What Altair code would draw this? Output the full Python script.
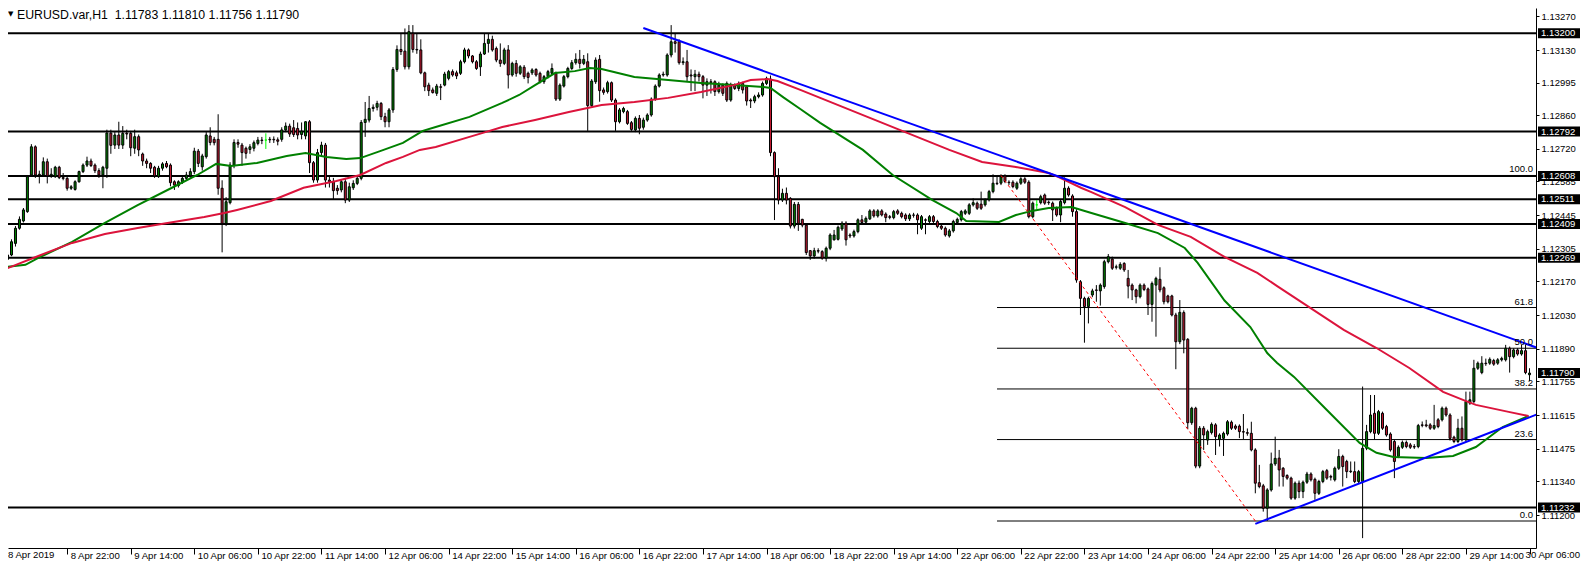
import json
import altair as alt
import pandas as pd

FONT = "Liberation Sans"

# ---------------- data (EURUSD H1, bars 1..384) ----------------
OPEN = [
    1.12262, 1.12280, 1.12328, 1.12391, 1.12421, 1.12460, 1.12612, 1.12729, 1.12612, 1.12612,
    1.12667, 1.12610, 1.12605, 1.12644, 1.12601, 1.12598, 1.12557, 1.12552, 1.12584, 1.12626,
    1.12653, 1.12670, 1.12653, 1.12630, 1.12612, 1.12640, 1.12786, 1.12736, 1.12778, 1.12736,
    1.12785, 1.12785, 1.12723, 1.12771, 1.12699, 1.12670, 1.12660, 1.12644, 1.12605, 1.12640,
    1.12660, 1.12653, 1.12584, 1.12568, 1.12584, 1.12598, 1.12609, 1.12626, 1.12711, 1.12646,
    1.12688, 1.12774, 1.12760, 1.12760, 1.12557, 1.12411, 1.12497, 1.12653, 1.12747, 1.12736,
    1.12723, 1.12718, 1.12723, 1.12743, 1.12757, 1.12757, 1.12760, 1.12760, 1.12758, 1.12760,
    1.12799, 1.12815, 1.12808, 1.12805, 1.12780, 1.12774, 1.12833, 1.12663, 1.12591, 1.12705,
    1.12736, 1.12591, 1.12584, 1.12557, 1.12550, 1.12584, 1.12508, 1.12559, 1.12577, 1.12598,
    1.12830, 1.12840, 1.12888, 1.12893, 1.12909, 1.12854, 1.12833, 1.12882, 1.13050, 1.13133,
    1.13126, 1.13061, 1.13200, 1.13133, 1.13131, 1.13036, 1.12985, 1.12965, 1.12951, 1.12978,
    1.12985, 1.13013, 1.13041, 1.13036, 1.13034, 1.13082, 1.13131, 1.13106, 1.13082, 1.13061,
    1.13114, 1.13158, 1.13175, 1.13137, 1.13089, 1.13075, 1.13131, 1.13027, 1.13075, 1.13034,
    1.13059, 1.13034, 1.13036, 1.13050, 1.13034, 1.12999, 1.13020, 1.13034, 1.13034, 1.12927,
    1.12981, 1.13020, 1.13054, 1.13078, 1.13092, 1.13075, 1.13082, 1.12900, 1.12999, 1.13092,
    1.12965, 1.12958, 1.12995, 1.12923, 1.12833, 1.12875, 1.12875, 1.12829, 1.12799, 1.12847,
    1.12810, 1.12840, 1.12861, 1.12927, 1.12981, 1.13027, 1.13027, 1.13110, 1.13165, 1.13165,
    1.13078, 1.13082, 1.13027, 1.13020, 1.13030, 1.13020, 1.12985, 1.12999, 1.12999, 1.12958,
    1.12985, 1.12992, 1.12923, 1.12985, 1.12971, 1.12992, 1.12978, 1.12923, 1.12919, 1.12937,
    1.12944, 1.12992, 1.13010, 1.12705, 1.12605, 1.12508, 1.12536, 1.12515, 1.12400, 1.12490,
    1.12428, 1.12404, 1.12298, 1.12276, 1.12298, 1.12294, 1.12267, 1.12308, 1.12343, 1.12345,
    1.12388, 1.12412, 1.12363, 1.12359, 1.12377, 1.12426, 1.12416, 1.12430, 1.12463, 1.12442,
    1.12463, 1.12450, 1.12439, 1.12435, 1.12463, 1.12453, 1.12446, 1.12430, 1.12446, 1.12446,
    1.12391, 1.12426, 1.12419, 1.12439, 1.12419, 1.12400, 1.12391, 1.12359, 1.12380, 1.12415,
    1.12426, 1.12453, 1.12453, 1.12488, 1.12495, 1.12491, 1.12488, 1.12509, 1.12543, 1.12578,
    1.12578, 1.12608, 1.12582, 1.12582, 1.12557, 1.12578, 1.12596, 1.12582, 1.12439, 1.12488,
    1.12497, 1.12529, 1.12497, 1.12495, 1.12474, 1.12446, 1.12497, 1.12557, 1.12525, 1.12460,
    1.12169, 1.12100, 1.12066, 1.12114, 1.12135, 1.12131, 1.12149, 1.12252, 1.12263, 1.12229,
    1.12225, 1.12245, 1.12183, 1.12155, 1.12135, 1.12107, 1.12155, 1.12139, 1.12075, 1.12155,
    1.12179, 1.12144, 1.12110, 1.12110, 1.12031, 1.11920, 1.12041, 1.11930, 1.11584, 1.11644,
    1.11404, 1.11561, 1.11512, 1.11543, 1.11575, 1.11515, 1.11519, 1.11537, 1.11586, 1.11570,
    1.11570, 1.11547, 1.11543, 1.11540, 1.11471, 1.11335, 1.11322, 1.11229, 1.11305, 1.11413,
    1.11437, 1.11395, 1.11365, 1.11354, 1.11271, 1.11333, 1.11298, 1.11337, 1.11371, 1.11349,
    1.11291, 1.11340, 1.11385, 1.11361, 1.11347, 1.11395, 1.11444, 1.11423, 1.11381, 1.11381,
    1.11340, 1.11340, 1.11478, 1.11547, 1.11623, 1.11540, 1.11623, 1.11568, 1.11537, 1.11506,
    1.11444, 1.11482, 1.11502, 1.11492, 1.11485, 1.11485, 1.11575, 1.11575, 1.11575, 1.11561,
    1.11596, 1.11596, 1.11644, 1.11616, 1.11524, 1.11506, 1.11561, 1.11513, 1.11665, 1.11672,
    1.11810, 1.11792, 1.11831, 1.11831, 1.11842, 1.11831, 1.11845, 1.11845, 1.11893, 1.11858,
    1.11886, 1.11869, 1.11883, 1.11783,
]
HIGH = [
    1.12294, 1.12345, 1.12400, 1.12440, 1.12475, 1.12612, 1.12740, 1.12735, 1.12630, 1.12685,
    1.12680, 1.12640, 1.12650, 1.12650, 1.12620, 1.12605, 1.12570, 1.12590, 1.12630, 1.12660,
    1.12688, 1.12680, 1.12660, 1.12640, 1.12650, 1.12800, 1.12800, 1.12790, 1.12833, 1.12815,
    1.12800, 1.12795, 1.12800, 1.12780, 1.12705, 1.12680, 1.12665, 1.12650, 1.12650, 1.12665,
    1.12670, 1.12660, 1.12590, 1.12590, 1.12610, 1.12625, 1.12640, 1.12725, 1.12720, 1.12700,
    1.12790, 1.12810, 1.12770, 1.12864, 1.12590, 1.12520, 1.12665, 1.12760, 1.12760, 1.12745,
    1.12730, 1.12740, 1.12755, 1.12770, 1.12770, 1.12785, 1.12770, 1.12772, 1.12768, 1.12810,
    1.12830, 1.12825, 1.12840, 1.12830, 1.12830, 1.12835, 1.12840, 1.12670, 1.12720, 1.12750,
    1.12745, 1.12610, 1.12600, 1.12570, 1.12595, 1.12600, 1.12580, 1.12590, 1.12610, 1.12840,
    1.12915, 1.12940, 1.12905, 1.12920, 1.12915, 1.12870, 1.12890, 1.13060, 1.13150, 1.13200,
    1.13220, 1.13234, 1.13234, 1.13200, 1.13175, 1.13041, 1.12995, 1.12975, 1.12990, 1.12990,
    1.13040, 1.13048, 1.13050, 1.13045, 1.13090, 1.13140, 1.13137, 1.13110, 1.13089, 1.13124,
    1.13200, 1.13200, 1.13190, 1.13145, 1.13158, 1.13140, 1.13151, 1.13082, 1.13089, 1.13068,
    1.13068, 1.13041, 1.13055, 1.13055, 1.13041, 1.13027, 1.13048, 1.13075, 1.13041, 1.12992,
    1.13027, 1.13061, 1.13089, 1.13117, 1.13131, 1.13110, 1.13117, 1.13010, 1.13100, 1.13110,
    1.12975, 1.13003, 1.13000, 1.12930, 1.12890, 1.12895, 1.12882, 1.12836, 1.12855, 1.12861,
    1.12850, 1.12868, 1.12934, 1.12988, 1.13034, 1.13041, 1.13117, 1.13234, 1.13200, 1.13175,
    1.13100, 1.13131, 1.13050, 1.13048, 1.13041, 1.13027, 1.13013, 1.13010, 1.13005, 1.12999,
    1.12992, 1.13000, 1.12995, 1.12992, 1.13000, 1.12999, 1.12985, 1.12930, 1.12945, 1.12955,
    1.13000, 1.13020, 1.13025, 1.12710, 1.12640, 1.12555, 1.12560, 1.12520, 1.12500, 1.12500,
    1.12430, 1.12410, 1.12300, 1.12310, 1.12308, 1.12300, 1.12315, 1.12370, 1.12384, 1.12402,
    1.12420, 1.12420, 1.12370, 1.12385, 1.12432, 1.12446, 1.12440, 1.12470, 1.12470, 1.12470,
    1.12470, 1.12457, 1.12446, 1.12467, 1.12470, 1.12460, 1.12453, 1.12453, 1.12455, 1.12453,
    1.12446, 1.12432, 1.12446, 1.12446, 1.12426, 1.12405, 1.12398, 1.12388, 1.12426, 1.12435,
    1.12467, 1.12470, 1.12495, 1.12515, 1.12502, 1.12543, 1.12515, 1.12550, 1.12615, 1.12605,
    1.12615, 1.12615, 1.12590, 1.12590, 1.12585, 1.12603, 1.12603, 1.12590, 1.12502, 1.12508,
    1.12530, 1.12535, 1.12506, 1.12502, 1.12481, 1.12509, 1.12602, 1.12565, 1.12532, 1.12470,
    1.12176, 1.12107, 1.12107, 1.12140, 1.12155, 1.12162, 1.12260, 1.12284, 1.12273, 1.12240,
    1.12250, 1.12250, 1.12218, 1.12162, 1.12140, 1.12162, 1.12162, 1.12145, 1.12170, 1.12190,
    1.12229, 1.12150, 1.12115, 1.12115, 1.12040, 1.12093, 1.12050, 1.11935, 1.11650, 1.11650,
    1.11570, 1.11570, 1.11555, 1.11585, 1.11582, 1.11540, 1.11547, 1.11595, 1.11593, 1.11577,
    1.11577, 1.11620, 1.11560, 1.11588, 1.11478, 1.11409, 1.11330, 1.11312, 1.11460, 1.11526,
    1.11471, 1.11400, 1.11370, 1.11360, 1.11340, 1.11344, 1.11344, 1.11380, 1.11378, 1.11356,
    1.11347, 1.11388, 1.11392, 1.11368, 1.11402, 1.11474, 1.11451, 1.11430, 1.11423, 1.11423,
    1.11388, 1.11734, 1.11575, 1.11699, 1.11699, 1.11637, 1.11630, 1.11575, 1.11544, 1.11513,
    1.11490, 1.11510, 1.11510, 1.11500, 1.11495, 1.11579, 1.11589, 1.11596, 1.11582, 1.11658,
    1.11603, 1.11651, 1.11651, 1.11623, 1.11530, 1.11600, 1.11610, 1.11713, 1.11713, 1.11845,
    1.11838, 1.11860, 1.11850, 1.11855, 1.11849, 1.11852, 1.11858, 1.11907, 1.11900, 1.11893,
    1.11893, 1.11907, 1.11907, 1.11810,
]
LOW = [
    1.12259, 1.12275, 1.12315, 1.12385, 1.12415, 1.12455, 1.12605, 1.12600, 1.12577, 1.12605,
    1.12577, 1.12600, 1.12600, 1.12595, 1.12590, 1.12547, 1.12550, 1.12547, 1.12580, 1.12620,
    1.12645, 1.12645, 1.12620, 1.12600, 1.12557, 1.12600, 1.12700, 1.12720, 1.12720, 1.12720,
    1.12760, 1.12690, 1.12700, 1.12690, 1.12650, 1.12640, 1.12620, 1.12600, 1.12600, 1.12630,
    1.12640, 1.12565, 1.12550, 1.12560, 1.12575, 1.12590, 1.12600, 1.12615, 1.12645, 1.12630,
    1.12680, 1.12735, 1.12735, 1.12530, 1.12291, 1.12400, 1.12490, 1.12640, 1.12725, 1.12650,
    1.12680, 1.12700, 1.12710, 1.12735, 1.12740, 1.12720, 1.12745, 1.12745, 1.12735, 1.12750,
    1.12790, 1.12770, 1.12770, 1.12760, 1.12760, 1.12760, 1.12620, 1.12580, 1.12580, 1.12690,
    1.12560, 1.12560, 1.12510, 1.12530, 1.12540, 1.12495, 1.12500, 1.12550, 1.12570, 1.12590,
    1.12770, 1.12830, 1.12875, 1.12880, 1.12840, 1.12810, 1.12810, 1.12870, 1.13040, 1.13110,
    1.13050, 1.13050, 1.13120, 1.13115, 1.13030, 1.12960, 1.12940, 1.12950, 1.12940, 1.12923,
    1.12980, 1.13005, 1.13020, 1.13010, 1.13027, 1.13075, 1.13096, 1.13075, 1.13048, 1.13023,
    1.13110, 1.13120, 1.13124, 1.13080, 1.13061, 1.13068, 1.12971, 1.13020, 1.13020, 1.13027,
    1.13010, 1.12992, 1.13027, 1.13020, 1.12992, 1.12990, 1.13013, 1.13027, 1.12919, 1.12919,
    1.12975, 1.13013, 1.13048, 1.13070, 1.13054, 1.13068, 1.12795, 1.12890, 1.12990, 1.12916,
    1.12945, 1.12950, 1.12915, 1.12795, 1.12826, 1.12868, 1.12820, 1.12795, 1.12790, 1.12781,
    1.12800, 1.12833, 1.12854, 1.12920, 1.12975, 1.13020, 1.13020, 1.13100, 1.13120, 1.13070,
    1.13068, 1.13000, 1.12960, 1.12960, 1.13000, 1.12930, 1.12940, 1.12950, 1.12940, 1.12950,
    1.12940, 1.12915, 1.12916, 1.12965, 1.12960, 1.12950, 1.12900, 1.12890, 1.12910, 1.12930,
    1.12937, 1.12985, 1.12690, 1.12425, 1.12490, 1.12500, 1.12490, 1.12390, 1.12390, 1.12380,
    1.12395, 1.12280, 1.12260, 1.12265, 1.12287, 1.12260, 1.12253, 1.12300, 1.12340, 1.12340,
    1.12380, 1.12319, 1.12350, 1.12352, 1.12370, 1.12410, 1.12410, 1.12425, 1.12435, 1.12435,
    1.12440, 1.12416, 1.12428, 1.12428, 1.12446, 1.12432, 1.12421, 1.12421, 1.12435, 1.12366,
    1.12384, 1.12366, 1.12412, 1.12412, 1.12391, 1.12384, 1.12356, 1.12352, 1.12373, 1.12408,
    1.12419, 1.12446, 1.12446, 1.12481, 1.12467, 1.12467, 1.12481, 1.12502, 1.12536, 1.12570,
    1.12570, 1.12578, 1.12570, 1.12557, 1.12550, 1.12571, 1.12575, 1.12432, 1.12432, 1.12470,
    1.12490, 1.12488, 1.12488, 1.12421, 1.12439, 1.12416, 1.12490, 1.12522, 1.12439, 1.12165,
    1.12031, 1.11916, 1.11996, 1.12105, 1.12086, 1.12070, 1.12140, 1.12245, 1.12218, 1.12220,
    1.12218, 1.12210, 1.12100, 1.12093, 1.12079, 1.12100, 1.12130, 1.12031, 1.12003, 1.11941,
    1.12125, 1.12075, 1.12079, 1.12025, 1.11806, 1.11910, 1.11872, 1.11557, 1.11575, 1.11395,
    1.11395, 1.11471, 1.11492, 1.11535, 1.11450, 1.11485, 1.11446, 1.11530, 1.11554, 1.11554,
    1.11520, 1.11515, 1.11530, 1.11465, 1.11291, 1.11312, 1.11215, 1.11176, 1.11298, 1.11405,
    1.11319, 1.11319, 1.11347, 1.11264, 1.11264, 1.11271, 1.11271, 1.11330, 1.11340, 1.11264,
    1.11284, 1.11333, 1.11347, 1.11344, 1.11340, 1.11388, 1.11319, 1.11354, 1.11375, 1.11333,
    1.11330, 1.11105, 1.11470, 1.11540, 1.11513, 1.11533, 1.11554, 1.11526, 1.11464, 1.11354,
    1.11437, 1.11475, 1.11478, 1.11475, 1.11475, 1.11478, 1.11565, 1.11565, 1.11554, 1.11554,
    1.11561, 1.11589, 1.11609, 1.11510, 1.11499, 1.11499, 1.11506, 1.11506, 1.11658, 1.11665,
    1.11803, 1.11785, 1.11820, 1.11824, 1.11820, 1.11824, 1.11838, 1.11838, 1.11792, 1.11851,
    1.11862, 1.11862, 1.11785, 1.11756,
]
CLOSE = [
    1.12280, 1.12335, 1.12391, 1.12428, 1.12467, 1.12605, 1.12729, 1.12612, 1.12615, 1.12667,
    1.12608, 1.12615, 1.12644, 1.12601, 1.12598, 1.12557, 1.12563, 1.12584, 1.12626, 1.12653,
    1.12670, 1.12651, 1.12630, 1.12612, 1.12644, 1.12786, 1.12735, 1.12778, 1.12736, 1.12785,
    1.12782, 1.12725, 1.12771, 1.12716, 1.12670, 1.12660, 1.12640, 1.12608, 1.12640, 1.12658,
    1.12646, 1.12580, 1.12570, 1.12584, 1.12598, 1.12612, 1.12626, 1.12711, 1.12660, 1.12691,
    1.12778, 1.12747, 1.12746, 1.12557, 1.12411, 1.12501, 1.12653, 1.12747, 1.12740, 1.12705,
    1.12702, 1.12729, 1.12746, 1.12757, 1.12755, 1.12757, 1.12758, 1.12758, 1.12752, 1.12799,
    1.12815, 1.12782, 1.12780, 1.12778, 1.12794, 1.12833, 1.12663, 1.12591, 1.12705, 1.12736,
    1.12591, 1.12584, 1.12547, 1.12547, 1.12584, 1.12508, 1.12563, 1.12577, 1.12598, 1.12830,
    1.12843, 1.12888, 1.12893, 1.12909, 1.12854, 1.12833, 1.12882, 1.13050, 1.13133, 1.13124,
    1.13061, 1.13207, 1.13133, 1.13131, 1.13036, 1.12978, 1.12962, 1.12954, 1.12981, 1.12976,
    1.13031, 1.13041, 1.13027, 1.13023, 1.13082, 1.13131, 1.13106, 1.13082, 1.13054, 1.13114,
    1.13158, 1.13175, 1.13131, 1.13089, 1.13075, 1.13131, 1.13027, 1.13075, 1.13034, 1.13061,
    1.13020, 1.13017, 1.13048, 1.13027, 1.12999, 1.13020, 1.13041, 1.13054, 1.12927, 1.12985,
    1.13020, 1.13054, 1.13078, 1.13092, 1.13075, 1.13092, 1.12900, 1.13002, 1.13089, 1.12962,
    1.12955, 1.12995, 1.12923, 1.12833, 1.12882, 1.12888, 1.12826, 1.12801, 1.12847, 1.12806,
    1.12840, 1.12861, 1.12927, 1.12981, 1.13027, 1.13030, 1.13110, 1.13165, 1.13158, 1.13078,
    1.13082, 1.13020, 1.13023, 1.13030, 1.13020, 1.12985, 1.12999, 1.12995, 1.12958, 1.12985,
    1.12951, 1.12923, 1.12985, 1.12971, 1.12992, 1.12965, 1.12919, 1.12919, 1.12937, 1.12944,
    1.12992, 1.13013, 1.12705, 1.12605, 1.12508, 1.12536, 1.12508, 1.12400, 1.12490, 1.12411,
    1.12404, 1.12290, 1.12276, 1.12298, 1.12296, 1.12267, 1.12308, 1.12363, 1.12363, 1.12395,
    1.12412, 1.12343, 1.12359, 1.12377, 1.12426, 1.12415, 1.12432, 1.12463, 1.12442, 1.12463,
    1.12446, 1.12435, 1.12436, 1.12460, 1.12453, 1.12439, 1.12430, 1.12446, 1.12445, 1.12426,
    1.12439, 1.12424, 1.12439, 1.12419, 1.12398, 1.12391, 1.12363, 1.12380, 1.12419, 1.12428,
    1.12460, 1.12463, 1.12488, 1.12497, 1.12474, 1.12474, 1.12509, 1.12543, 1.12578, 1.12576,
    1.12605, 1.12585, 1.12580, 1.12564, 1.12578, 1.12596, 1.12582, 1.12439, 1.12495, 1.12488,
    1.12522, 1.12495, 1.12499, 1.12467, 1.12446, 1.12502, 1.12557, 1.12529, 1.12460, 1.12176,
    1.12100, 1.12066, 1.12100, 1.12131, 1.12133, 1.12155, 1.12252, 1.12273, 1.12225, 1.12231,
    1.12241, 1.12218, 1.12151, 1.12135, 1.12107, 1.12155, 1.12137, 1.12075, 1.12162, 1.12183,
    1.12135, 1.12086, 1.12086, 1.12031, 1.11920, 1.12042, 1.11927, 1.11584, 1.11644, 1.11404,
    1.11561, 1.11533, 1.11547, 1.11577, 1.11526, 1.11533, 1.11540, 1.11588, 1.11561, 1.11561,
    1.11547, 1.11545, 1.11540, 1.11471, 1.11333, 1.11319, 1.11229, 1.11305, 1.11413, 1.11436,
    1.11388, 1.11361, 1.11354, 1.11271, 1.11333, 1.11298, 1.11337, 1.11371, 1.11347, 1.11291,
    1.11340, 1.11381, 1.11354, 1.11358, 1.11395, 1.11444, 1.11402, 1.11381, 1.11383, 1.11340,
    1.11381, 1.11478, 1.11547, 1.11616, 1.11540, 1.11630, 1.11561, 1.11533, 1.11471, 1.11423,
    1.11482, 1.11502, 1.11485, 1.11482, 1.11483, 1.11572, 1.11573, 1.11571, 1.11561, 1.11572,
    1.11568, 1.11644, 1.11616, 1.11519, 1.11506, 1.11561, 1.11513, 1.11672, 1.11679, 1.11810,
    1.11831, 1.11831, 1.11829, 1.11847, 1.11827, 1.11845, 1.11851, 1.11893, 1.11858, 1.11886,
    1.11869, 1.11883, 1.11792, 1.11790,
]

# moving averages (bar position, value)
MA_GREEN_BAR = [0.5, 5.5, 8.75, 17.25, 25.5, 33.75, 42.25, 48.75, 53.5, 57.25,
                63.75, 71.25, 76, 81.25, 86.25, 89.75, 94.75, 100.5, 105.5, 108.75,
                117.25, 125.5, 129.75, 133.75, 138.75, 143.75, 147.5, 150.5, 158.75, 167.25,
                175.5, 183.75, 191.25, 193, 196.25, 200.5, 205.5, 216.25, 223.75, 233.75,
                239.75, 242.25, 250.5, 254.75, 258.75, 263, 268.75, 273.75, 282.25, 290.5,
                297.25, 300.5, 307.25, 313.75, 318, 320.5, 324.75, 333, 341.25, 345.5,
                349.75, 358, 364.75, 370.5, 377.25, 383.75]
MA_GREEN_VAL = [1.12230, 1.12239, 1.12268, 1.12334, 1.12413, 1.12487, 1.12558, 1.12612, 1.12658, 1.12649,
                1.12662, 1.12691, 1.12703, 1.12687, 1.12678, 1.12682, 1.12711, 1.12745, 1.12795, 1.12811,
                1.12853, 1.12911, 1.12944, 1.12985, 1.13035, 1.13043, 1.13056, 1.13052, 1.13019, 1.13006,
                1.12994, 1.12985, 1.12977, 1.12973, 1.12934, 1.12886, 1.12828, 1.12716, 1.12612, 1.12508,
                1.12454, 1.12421, 1.12417, 1.12446, 1.12463, 1.12475, 1.12479, 1.12454, 1.12413, 1.12371,
                1.12309, 1.12247, 1.12091, 1.11981, 1.11873, 1.11832, 1.11774, 1.11637, 1.11500, 1.11459,
                1.11442, 1.11438, 1.11446, 1.11483, 1.11566, 1.11612]
MA_RED_BAR = [0.5, 8.75, 17.25, 25.5, 33.75, 41.25, 50.5, 55.5, 58.75, 67.25,
              75.5, 83.75, 89.75, 96.25, 100.5, 104.75, 108.75, 117.25, 121.25, 125.5,
              133.75, 142.25, 150.5, 158.75, 167.25, 175.5, 183.75, 188, 192.25, 194.75,
              200.5, 205.5, 238, 246.25, 254.75, 263, 265.5, 271.25, 273.75, 282.25,
              290.5, 298.75, 307.25, 315.5, 320.5, 337.25, 345.5, 353.75, 362.25, 367.25,
              370.5, 378.75, 383.75]
MA_RED_VAL = [1.12222, 1.12276, 1.12330, 1.12367, 1.12392, 1.12413, 1.12438, 1.12454, 1.12467, 1.12504,
              1.12559, 1.12587, 1.12612, 1.12662, 1.12687, 1.12716, 1.12728, 1.12770, 1.12790, 1.12811,
              1.12840, 1.12873, 1.12902, 1.12915, 1.12932, 1.12956, 1.12985, 1.13006, 1.13010, 1.13002,
              1.12965, 1.12932, 1.12716, 1.12666, 1.12645, 1.12620, 1.12603, 1.12558, 1.12541, 1.12479,
              1.12405, 1.12355, 1.12272, 1.12206, 1.12151, 1.11969, 1.11894, 1.11811, 1.11712, 1.11679,
              1.11658, 1.11629, 1.11612]

LEVELS = [1.13200, 1.12792, 1.12608, 1.12511, 1.12409, 1.12269, 1.11232]
LAST_PRICE = 1.11790

FIB_NAMES = ["100.0", "61.8", "50.0", "38.2", "23.6", "0.0"]
FIB_PRICES = [1.12610, 1.12062, 1.11893, 1.11724, 1.11514, 1.11176]
FIB_FROM_BAR = 250
EDGE_BAR = 386.75

DASH_BAR = [251, 315]
DASH_PRICE = [1.12610, 1.11176]

TREND_NAME = ["upper", "upper", "lower", "lower"]
TREND_BAR = [161, 386.75, 315, 386.75]
TREND_PRICE = [1.13222, 1.11890, 1.11164, 1.11624]

Y_TICKS = [1.13270, 1.13130, 1.12995, 1.12860, 1.12720, 1.12585, 1.12445, 1.12305, 1.12170,
           1.12030, 1.11890, 1.11755, 1.11615, 1.11475, 1.11340, 1.11200, 1.11060]
TIME_LABELS = ["8 Apr 2019", "8 Apr 22:00", "9 Apr 14:00", "10 Apr 06:00", "10 Apr 22:00",
               "11 Apr 14:00", "12 Apr 06:00", "14 Apr 22:00", "15 Apr 14:00", "16 Apr 06:00",
               "16 Apr 22:00", "17 Apr 14:00", "18 Apr 06:00", "18 Apr 22:00", "19 Apr 14:00",
               "22 Apr 06:00", "22 Apr 22:00", "23 Apr 14:00", "24 Apr 06:00", "24 Apr 22:00",
               "25 Apr 14:00", "26 Apr 06:00", "28 Apr 22:00", "29 Apr 14:00", "30 Apr 06:00"]
BARS_PER_LABEL = 16
TITLE = "EURUSD.var,H1\u00A0\u00A01.11783 1.11810 1.11756 1.11790"

# ---------------- layout ----------------
W, H = 1528, 540
X_DOMAIN = [2.375, 384.375]
Y_DOMAIN = [1.11064, 1.13305]
XFS = 9.6    # time-axis label size
YFS = 9.5    # price-axis label size

BULL, BEAR, DOJI = "#008000", "#C01830", "#00FF00"

xs = alt.Scale(domain=X_DOMAIN, nice=False, zero=False)
ys = alt.Scale(domain=Y_DOMAIN, nice=False, zero=False)

x_axis = alt.Axis(
    values=list(range(BARS_PER_LABEL, 385, BARS_PER_LABEL)),
    labelExpr=(f"datum.value > 380 ? '' : "
               f"{json.dumps(TIME_LABELS)}[round(datum.value/{BARS_PER_LABEL})]"),
    labelAlign="left", labelBaseline="top", labelPadding=-4, labelOffset=3,
    tickSize=6, tickColor="black", domainColor="black", labelColor="black",
    labelFont=FONT, labelFontSize=XFS, labelOverlap=False, labelFlush=False,
    grid=False, title=None,
)
y_axis = alt.Axis(
    orient="right", values=Y_TICKS, format=".5f", tickSize=3, tickColor="black",
    domainColor="black", labelColor="black", labelFont=FONT, labelFontSize=YFS,
    labelPadding=2, labelOverlap=False, labelFlush=False, grid=False, title=None,
)


def X(field):
    return alt.X(field, type="quantitative", scale=xs, axis=x_axis, title=None)


def Y(field):
    return alt.Y(field, type="quantitative", scale=ys, axis=y_axis, title=None)


n = len(CLOSE)
df = pd.DataFrame({"i": list(range(1, n + 1)), "o": OPEN, "h": HIGH, "l": LOW, "c": CLOSE})
df["body_col"] = [DOJI if abs(o - c) < 1e-9 else (BULL if c > o else BEAR) for o, c in zip(OPEN, CLOSE)]
df["wick_col"] = [DOJI if abs(o - c) < 1e-9 else "black" for o, c in zip(OPEN, CLOSE)]

wicks = alt.Chart(df).mark_rule(strokeWidth=1, clip=True).encode(
    x=X("i"), y=Y("l"), y2="h:Q", color=alt.Color("wick_col:N", scale=None))
bodies = alt.Chart(df).mark_bar(size=2, strokeWidth=1, clip=True).encode(
    x=X("i"), y=Y("o"), y2="c:Q",
    fill=alt.Fill("body_col:N", scale=None), stroke=alt.Stroke("wick_col:N", scale=None))

lv = pd.DataFrame({"p": LEVELS})
levels = alt.Chart(lv).mark_rule(color="black", strokeWidth=2).encode(y=Y("p"))

fib = pd.DataFrame({"name": FIB_NAMES, "p": FIB_PRICES, "x0": FIB_FROM_BAR, "x1": EDGE_BAR})
fib_rules = alt.Chart(fib).mark_rule(color="black", strokeWidth=1, clip=True).encode(
    x=X("x0"), x2="x1:Q", y=Y("p"))
fib_text = alt.Chart(fib).mark_text(align="right", baseline="bottom", dy=-1, font=FONT,
                                    fontSize=YFS, color="black").encode(
    x=alt.value(W - 3), y=Y("p"), text="name:N")

ma_g = alt.Chart(pd.DataFrame({"b": MA_GREEN_BAR, "v": MA_GREEN_VAL})).mark_line(
    color="#008000", strokeWidth=2, clip=True).encode(x=X("b"), y=Y("v"))
ma_r = alt.Chart(pd.DataFrame({"b": MA_RED_BAR, "v": MA_RED_VAL})).mark_line(
    color="#DC143C", strokeWidth=2, clip=True).encode(x=X("b"), y=Y("v"))

dash = alt.Chart(pd.DataFrame({"b": DASH_BAR, "v": DASH_PRICE})).mark_line(
    color="#FF0000", strokeWidth=1, strokeDash=[3, 3]).encode(x=X("b"), y=Y("v"))

trends = alt.Chart(pd.DataFrame({"n": TREND_NAME, "b": TREND_BAR, "v": TREND_PRICE})).mark_line(
    color="#0000FF", strokeWidth=2, clip=True).encode(x=X("b"), y=Y("v"), detail="n:N")

boxes_df = pd.DataFrame({"p": LEVELS + [LAST_PRICE]})
boxes_df["label"] = [f"{p:.5f}" for p in boxes_df["p"]]
boxes = alt.Chart(boxes_df).mark_rule(color="black", strokeWidth=10).encode(
    x=alt.value(W + 2), x2=alt.value(W + 44), y=Y("p"))
box_text = alt.Chart(boxes_df).mark_text(align="left", baseline="middle", font=FONT,
                                         fontSize=YFS, color="white").encode(
    x=alt.value(W + 5), y=Y("p"), text="label:N")

text_df = pd.DataFrame({"t": [TITLE], "a": ["\u25BC"],
                        "f": [TIME_LABELS[0]], "z": [TIME_LABELS[-1]]})
tri = alt.Chart(text_df).mark_text(align="left", baseline="top", fontSize=7, color="black",
                                   font="DejaVu Sans").encode(
    x=alt.value(0), y=alt.value(2), text="a:N")
title = alt.Chart(text_df).mark_text(align="left", baseline="top", font=FONT, fontSize=12.3,
                                     color="black").encode(
    x=alt.value(9), y=alt.value(1), text="t:N")
first_label = alt.Chart(text_df).mark_text(align="left", baseline="top", font=FONT,
                                           fontSize=XFS, color="black").encode(
    x=alt.value(0), y=alt.value(H + 2), text="f:N")
last_label = alt.Chart(text_df).mark_text(align="right", baseline="top", font=FONT,
                                          fontSize=XFS, color="black").encode(
    x=alt.value(W + 44), y=alt.value(H + 2), text="z:N")

chart = alt.layer(
    levels, fib_rules, wicks, bodies, ma_g, ma_r, dash, trends,
    fib_text, boxes, box_text, tri, title, first_label, last_label,
).properties(
    width=W, height=H,
    autosize=alt.AutoSizeParams(type="none"),
    padding={"left": 0, "top": 0, "right": 45, "bottom": 15},
    background="white",
).configure_view(stroke=None)

chart.save("out.html", embed_options={"renderer": "svg", "actions": False})
